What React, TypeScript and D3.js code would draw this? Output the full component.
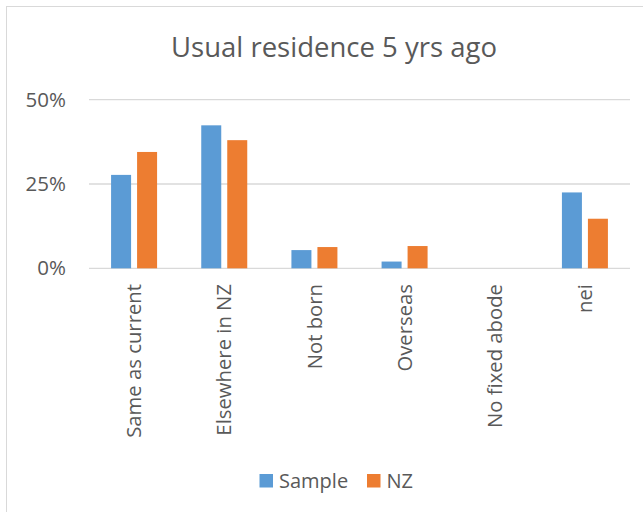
import React from "react";
import * as d3 from "d3";

const categories = ["Same as current", "Elsewhere in NZ", "Not born", "Overseas", "No fixed abode", "nei"];
const seriesNames = ["Sample", "NZ"];
const sampleValues = [0.277, 0.424, 0.054, 0.02, 0, 0.225];
const nzValues = [0.345, 0.38, 0.063, 0.066, 0, 0.147];
const yTicks = [0, 0.25, 0.5];
const colors = ["#5B9BD5", "#ED7D31"];

const W = 643;
const H = 512;
const font = "'Open Sans', sans-serif";
const textColor = "#595959";

export default function App() {
  const x = d3.scaleBand<string>().domain(categories).range([89, 630]);
  const groupW = 46;
  const x1 = d3.scaleBand<string>().domain(seriesNames).range([0, groupW]).paddingInner(6 / 26);
  const y = d3.scaleLinear().domain([0, 0.5]).range([268.3, 99.7]);
  const fmt = d3.format(".0%");
  const allValues = [sampleValues, nzValues];

  return (
    <div style={{ position: "absolute", left: 0, top: 0 }}>
      <svg width={W} height={H} style={{ display: "block", background: "#fff" }}>
        <rect x={6.5} y={6.5} width={W + 10} height={H + 10} fill="#fff" stroke="#D9D9D9" strokeWidth={1} />
        <text x={334} y={57} textAnchor="middle" fontFamily={font} fontSize={27.5} fill={textColor}>
          Usual residence 5 yrs ago
        </text>

        {yTicks.map((t) => (
          <g key={t}>
            <line x1={89} x2={630} y1={y(t)} y2={y(t)} stroke="#D9D9D9" strokeWidth={1.3} />
            <text x={66} y={y(t)} dy="0.35em" textAnchor="end" fontFamily={font} fontSize={20.5} fill={textColor}>
              {fmt(t)}
            </text>
          </g>
        ))}

        {categories.map((c, i) => {
          const gx = (x(c) as number) + x.bandwidth() / 2 - groupW / 2;
          return (
            <g key={c}>
              {seriesNames.map((s, j) => {
                const v = allValues[j][i];
                if (v <= 0) return null;
                return (
                  <rect
                    key={s}
                    x={gx + (x1(s) as number)}
                    y={y(v)}
                    width={x1.bandwidth()}
                    height={y(0) - y(v)}
                    fill={colors[j]}
                  />
                );
              })}
            </g>
          );
        })}

        {categories.map((c) => {
          const cx = (x(c) as number) + x.bandwidth() / 2;
          return (
            <text
              key={c}
              transform={`translate(${cx},${284}) rotate(-90)`}
              textAnchor="end"
              dy="0.35em"
              fontFamily={font}
              fontSize={20.3}
              fill={textColor}
            >
              {c}
            </text>
          );
        })}

        {seriesNames.map((s, j) => {
          const lx = j === 0 ? 259.5 : 367;
          return (
            <g key={s}>
              <rect x={lx} y={474} width={13.5} height={13.5} fill={colors[j]} />
              <text x={lx + 19.5} y={481} dy="0.35em" fontFamily={font} fontSize={20} fill={textColor}>
                {s}
              </text>
            </g>
          );
        })}
      </svg>
    </div>
  );
}
